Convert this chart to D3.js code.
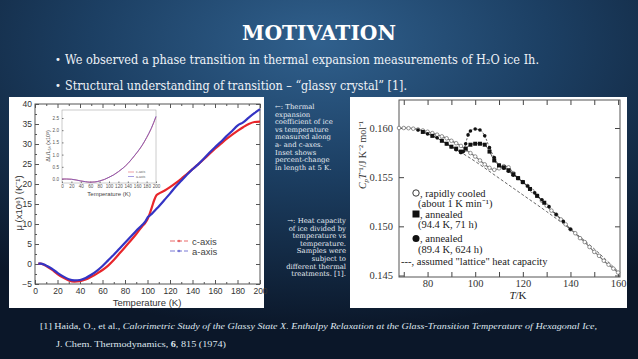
<!DOCTYPE html>
<html><head><meta charset="utf-8">
<script src="https://cdn.jsdelivr.net/npm/d3@7"></script>
<style>html,body{margin:0;padding:0;background:#0d1b2e;} svg{display:block}</style>
</head><body><svg id="c" width="638" height="359"></svg>
<script>
// ---------- DATA ----------
// Left: thermal expansion coefficient (x10^6 K^-1) vs temperature
const alphaT = [3,5,8,10,15,20,25,30,35,40,45,50,55,60,65,70,75,80,85,90,95,98,100,102,104,106,108,110,115,120,125,130,135,140,145,150,155,160,165,170,175,180,185,190,195,200];
const alphaC = [0.1,0.1,-0.2,-0.5,-1.4,-2.5,-3.4,-4.1,-4.4,-4.3,-3.9,-3.2,-2.4,-1.5,-0.4,1.0,2.6,4.2,5.8,7.5,9.3,10.3,11.2,12.6,14.3,16.0,17.2,17.6,18.3,19.2,20.2,21.3,22.5,23.7,24.9,26.2,27.5,28.8,30.0,31.2,32.3,33.3,34.2,35.0,35.5,35.6];
const alphaA = [0.1,0.1,-0.1,-0.4,-1.2,-2.2,-3.1,-3.8,-4.1,-4.0,-3.5,-2.7,-1.7,-0.5,0.9,2.3,3.8,5.3,6.8,8.3,9.7,10.6,11.6,12.1,12.6,13.2,13.8,14.4,16.0,17.6,19.3,20.8,22.3,23.7,24.9,26.3,27.8,29.2,30.5,31.9,33.2,34.6,35.4,36.6,37.7,38.7];
// Inset: dL/L5K (x10^3)
const insetT = [0,10,20,30,40,50,60,70,80,90,100,110,120,130,140,150,160,170,180,190,200];
const insetC = [0,0,-0.01,-0.04,-0.08,-0.11,-0.13,-0.12,-0.08,-0.02,0.07,0.17,0.30,0.45,0.63,0.85,1.09,1.36,1.69,2.07,2.55];
const insetA = [0,0,-0.01,-0.04,-0.08,-0.11,-0.13,-0.12,-0.08,-0.02,0.07,0.17,0.30,0.45,0.63,0.86,1.10,1.37,1.70,2.08,2.57];
const leftXTicks = [0,20,40,60,80,100,120,140,160,180,200];
const leftYTicks = [-5,0,5,10,15,20,25,30,35,40];
const insetXTicks = [0,20,40,60,80,100,120,140,160,180,200];
const insetYTicks = [0,0.5,1.0,1.5,2.0,2.5];
// Right: heat capacity / T (J K^-2 mol^-1)
const rcT  = [68,70,72,74,76,78,80,82,84,86,88,90,92,94,96,98,100,102,104,106,108,110,112,114,116,118,120,122,124,126,128,130,132,134,136,138,140,142,144,146,148,150,152,154,156,158,160];
const rcCp = [0.16000,0.16000,0.15998,0.15993,0.15985,0.15975,0.15962,0.15948,0.15932,0.15915,0.15895,0.15870,0.15845,0.15818,0.15780,0.15745,0.15710,0.15670,0.15630,0.15595,0.15575,0.15590,0.15612,0.15600,0.15540,0.15490,0.15450,0.15410,0.15360,0.15310,0.15260,0.15210,0.15160,0.15120,0.15070,0.15020,0.14970,0.14930,0.14880,0.14840,0.14790,0.14740,0.14700,0.14650,0.14610,0.14570,0.14530];
const sqT  = [78,82,86,88,90,92,94,96,98,100,102,104,106,108,110,112,114,116,118,120,123,126,129];
const sqCp = [0.1596,0.1592,0.1587,0.1584,0.1581,0.1579,0.1576,0.1579,0.1583,0.1584,0.1584,0.1583,0.1576,0.1567,0.1562,0.1560,0.1557,0.1553,0.1549,0.1545,0.1538,0.1531,0.1524];
const dotT  = [76,80,84,88,90,92,94,95,96,97,98,100,102,104,106,108,110,112,114,116,118,120,122,125,128,131,134,137,140];
const dotCp = [0.1598,0.1594,0.1590,0.1584,0.1581,0.1578,0.1575,0.1576,0.1584,0.1593,0.1597,0.1599,0.1598,0.1592,0.1580,0.1570,0.1562,0.1559,0.1556,0.1552,0.1549,0.1545,0.1541,0.1534,0.1527,0.1520,0.1512,0.1505,0.1497];
const latT  = [88,100,110,120,130,140,150,160];
const latCp = [0.1584,0.1566,0.1549,0.1532,0.1515,0.1497,0.1477,0.1454];
const rightXTicks = [80,100,120,140,160];
const rightXMinor = [70,90,110,130,150];
const rightYTicks = [0.145,0.150,0.155,0.160];

// ---------- DRAW ----------
const svg = d3.select("#c");
const defs = svg.append("defs");
const rg = defs.append("radialGradient").attr("id","bg").attr("cx","0.5").attr("cy","0.12").attr("r","0.8");
rg.append("stop").attr("offset","0").attr("stop-color","#30608d");
rg.append("stop").attr("offset","0.45").attr("stop-color","#1c3f63");
rg.append("stop").attr("offset","1").attr("stop-color","#0b1729");
svg.append("rect").attr("width",638).attr("height",359).attr("fill","url(#bg)");

// Title and bullets
svg.append("text").attr("x",319).attr("y",40).attr("text-anchor","middle")
  .attr("font-family","DejaVu Serif").attr("font-weight","bold").attr("font-size",21)
  .attr("fill","#ffffff").attr("textLength",154).attr("lengthAdjust","spacingAndGlyphs").text("MOTIVATION");
svg.append("text").attr("x",65).attr("y",64).attr("font-family","DejaVu Serif").attr("font-size",12.5)
  .attr("fill","#eef2f7").attr("textLength",474).attr("lengthAdjust","spacingAndGlyphs")
  .text("We observed a phase transition in thermal expansion measurements of H\u2082O ice Ih.");
svg.append("text").attr("x",65).attr("y",90).attr("font-family","DejaVu Serif").attr("font-size",12.5)
  .attr("fill","#eef2f7").attr("textLength",342).attr("lengthAdjust","spacingAndGlyphs")
  .text("Structural understanding of transition \u2013 \u201cglassy crystal\u201d [1].");
[60,86].forEach(yy=>svg.append("text").attr("x",55).attr("y",yy+3).attr("font-size",10).attr("fill","#eef2f7").attr("font-family","DejaVu Sans").text("\u2022"));

// ---------- LEFT PANEL ----------
svg.append("rect").attr("x",9).attr("y",97).attr("width",255).attr("height",211).attr("fill","#ffffff");
const lx = d3.scaleLinear([0,200],[35,260]);
const ly = d3.scaleLinear([-5,40],[284,104]);
function styleAxis(g, font, size, color, stroke){
  g.attr("font-family",font).attr("font-size",size);
  g.selectAll("text").attr("fill",color);
  g.selectAll("line").attr("stroke",stroke);
  g.select(".domain").remove();
}
const lf = "Liberation Sans";
let g;
g = svg.append("g").attr("transform","translate(0,284)").call(d3.axisBottom(lx).tickValues(leftXTicks).tickSizeInner(-4).tickSizeOuter(0).tickPadding(4));
styleAxis(g,lf,8.5,"#333","#555");
g = svg.append("g").attr("transform","translate(0,284)").call(d3.axisBottom(lx).tickValues(d3.range(10,200,20)).tickSizeInner(-2).tickSizeOuter(0).tickFormat(""));
styleAxis(g,lf,9,"#333","#555");
g = svg.append("g").attr("transform","translate(0,104)").call(d3.axisTop(lx).tickValues(leftXTicks).tickSizeInner(-4).tickSizeOuter(0).tickFormat(""));
styleAxis(g,lf,9,"#333","#555");
g = svg.append("g").attr("transform","translate(0,104)").call(d3.axisTop(lx).tickValues(d3.range(10,200,20)).tickSizeInner(-2).tickSizeOuter(0).tickFormat(""));
styleAxis(g,lf,9,"#333","#555");
g = svg.append("g").attr("transform","translate(35,0)").call(d3.axisLeft(ly).tickValues(leftYTicks).tickSizeInner(-4).tickSizeOuter(0).tickPadding(3));
styleAxis(g,lf,8.5,"#333","#555");
g = svg.append("g").attr("transform","translate(35,0)").call(d3.axisLeft(ly).tickValues(d3.range(-2.5,40,5)).tickSizeInner(-2).tickSizeOuter(0).tickFormat(""));
styleAxis(g,lf,9,"#333","#555");
g = svg.append("g").attr("transform","translate(260,0)").call(d3.axisRight(ly).tickValues(leftYTicks).tickSizeInner(-4).tickSizeOuter(0).tickFormat(""));
styleAxis(g,lf,9,"#333","#555");
svg.append("rect").attr("x",35).attr("y",104).attr("width",225).attr("height",180).attr("fill","none").attr("stroke","#555").attr("stroke-width",1);

const lline = d3.line().x(d=>lx(d[0])).y(d=>ly(d[1])).curve(d3.curveMonotoneX);
svg.append("path").attr("d",lline(d3.zip(alphaT,alphaC))).attr("fill","none").attr("stroke","#e8262b").attr("stroke-width",2.2);
svg.append("path").attr("d",lline(d3.zip(alphaT,alphaA))).attr("fill","none").attr("stroke","#3434c4").attr("stroke-width",2.2);

svg.append("text").attr("x",147).attr("y",306).attr("text-anchor","middle").attr("font-family",lf).attr("font-size",9.5).attr("fill","#333").text("Temperature (K)");
svg.append("text").attr("transform","translate(22,203) rotate(-90)").attr("text-anchor","middle").attr("font-family",lf).attr("font-size",9.5).attr("fill","#333")
  .text("\u03bc (x10\u2076) (K\u207b\u00b9)");

// main legend
[["c-axis","#ea6a6a",241],["a-axis","#7a7ad6",251]].forEach(([t,c,yy])=>{
  svg.append("line").attr("x1",170).attr("x2",188).attr("y1",yy).attr("y2",yy).attr("stroke",c).attr("stroke-width",1.2).attr("stroke-dasharray","5,2");
  svg.append("circle").attr("cx",179).attr("cy",yy).attr("r",1.3).attr("fill",c);
  svg.append("text").attr("x",192).attr("y",yy+3.5).attr("font-family",lf).attr("font-size",9.5).attr("fill","#444").text(t);
});

// inset
const ix = d3.scaleLinear([0,200],[62,156]);
const iy = d3.scaleLinear([0,2.5],[179,118]);
svg.append("rect").attr("x",62).attr("y",110).attr("width",94).attr("height",73).attr("fill","#fff").attr("stroke","#999").attr("stroke-width",0.5);
g = svg.append("g").attr("transform","translate(0,183)").call(d3.axisBottom(ix).tickValues(insetXTicks).tickSizeInner(-1.5).tickSizeOuter(0).tickPadding(2));
styleAxis(g,lf,4.6,"#555","#777");
g = svg.append("g").attr("transform","translate(62,0)").call(d3.axisLeft(iy).tickValues(insetYTicks).tickSizeInner(-1.5).tickSizeOuter(0).tickPadding(3).tickFormat(d3.format(".1f")));
styleAxis(g,lf,4.6,"#555","#777");
const iline = d3.line().x(d=>ix(d[0])).y(d=>iy(d[1])).curve(d3.curveMonotoneX);
svg.append("path").attr("d",iline(d3.zip(insetT,insetC))).attr("fill","none").attr("stroke","#e0606a").attr("stroke-width",1);
svg.append("path").attr("d",iline(d3.zip(insetT,insetA))).attr("fill","none").attr("stroke","#6a5ad0").attr("stroke-width",0.9).attr("stroke-opacity",0.8);
svg.append("text").attr("x",109).attr("y",196).attr("text-anchor","middle").attr("font-family",lf).attr("font-size",6).attr("fill","#444").text("Temperature (K)");
svg.append("text").attr("transform","translate(50,146) rotate(-90)").attr("text-anchor","middle").attr("font-family",lf).attr("font-size",5.5).attr("fill","#444")
  .text("\u0394L/L\u2085\u2096 (x10\u00b3)");
[["c-axis","#e0606a",172],["a-axis","#6a5ad0",176.5]].forEach(([t,c,yy])=>{
  svg.append("line").attr("x1",128).attr("x2",134).attr("y1",yy).attr("y2",yy).attr("stroke",c).attr("stroke-width",0.6);
  svg.append("text").attr("x",136).attr("y",yy+1.2).attr("font-family",lf).attr("font-size",3.5).attr("fill","#666").text(t);
});

// ---------- MIDDLE TEXT ----------
const mf = "DejaVu Serif";
const leftLines = ["\u2190: Thermal","expansion","coefficient of ice","vs temperature","measured along","a- and c-axes.","Inset shows","percent-change","in length at 5 K."];
leftLines.forEach((t,i)=>svg.append("text").attr("x",275).attr("y",109+i*7.6).attr("font-family",mf).attr("font-size",6.9).attr("fill","#e8edf3").text(t));
const rightLines = ["\u2192: Heat capacity","of ice divided by","temperature vs","temperature.","Samples were","subject to","different thermal","treatments. [1]."];
rightLines.forEach((t,i)=>svg.append("text").attr("x",346).attr("y",223+i*7.6).attr("text-anchor","end").attr("font-family",mf).attr("font-size",6.9).attr("fill","#e8edf3").text(t));

// ---------- RIGHT PANEL ----------
svg.append("rect").attr("x",350).attr("y",97).attr("width",277).attr("height",211).attr("fill","#ffffff");
const rx = d3.scaleLinear([68,160.8],[399,620]);
const ry = d3.scaleLinear([0.145,0.160],[275.5,128]);
const sf = "Liberation Serif";
g = svg.append("g").attr("transform","translate(0,277)").call(d3.axisBottom(rx).tickValues(rightXTicks).tickSizeInner(-5).tickSizeOuter(0).tickPadding(3));
styleAxis(g,sf,10.5,"#333","#444");
g = svg.append("g").attr("transform","translate(0,277)").call(d3.axisBottom(rx).tickValues(rightXMinor).tickSizeInner(-5).tickSizeOuter(0).tickFormat(""));
styleAxis(g,sf,10.5,"#333","#444");
g = svg.append("g").attr("transform","translate(0,100)").call(d3.axisTop(rx).tickValues(rightXTicks.concat(rightXMinor)).tickSizeInner(-5).tickSizeOuter(0).tickFormat(""));
styleAxis(g,sf,10.5,"#333","#444");
g = svg.append("g").attr("transform","translate(399,0)").call(d3.axisLeft(ry).tickValues(rightYTicks).tickSizeInner(-5).tickSizeOuter(0).tickPadding(6).tickFormat(d3.format(".3f")));
styleAxis(g,sf,10.5,"#333","#444");
g = svg.append("g").attr("transform","translate(620,0)").call(d3.axisRight(ry).tickValues(rightYTicks).tickSizeInner(-5).tickSizeOuter(0).tickFormat(""));
styleAxis(g,sf,10.5,"#333","#444");
svg.append("rect").attr("x",399).attr("y",100).attr("width",221).attr("height",177).attr("fill","none").attr("stroke","#555").attr("stroke-width",1);

const rline = d3.line().x(d=>rx(d[0])).y(d=>ry(d[1])).curve(d3.curveMonotoneX);
svg.append("path").attr("d",rline(d3.zip(latT,latCp))).attr("fill","none").attr("stroke","#666").attr("stroke-width",1).attr("stroke-dasharray","3,2");
svg.append("path").attr("d",rline(d3.zip(rcT,rcCp))).attr("fill","none").attr("stroke","#777").attr("stroke-width",1.2);
svg.append("path").attr("d",rline(d3.zip(sqT,sqCp))).attr("fill","none").attr("stroke","#333").attr("stroke-width",0.8);
svg.append("path").attr("d",rline(d3.zip(dotT,dotCp))).attr("fill","none").attr("stroke","#333").attr("stroke-width",0.8).attr("stroke-dasharray","2,1.5");
svg.append("g").selectAll("circle").data(d3.zip(rcT,rcCp)).join("circle")
  .attr("cx",d=>rx(d[0])).attr("cy",d=>ry(d[1])).attr("r",1.8).attr("fill","#fff").attr("stroke","#666").attr("stroke-width",0.7);
svg.append("g").selectAll("rect").data(d3.zip(sqT,sqCp)).join("rect")
  .attr("x",d=>rx(d[0])-2).attr("y",d=>ry(d[1])-2).attr("width",4).attr("height",4).attr("fill","#111");
svg.append("g").selectAll("circle").data(d3.zip(dotT,dotCp)).join("circle")
  .attr("cx",d=>rx(d[0])).attr("cy",d=>ry(d[1])).attr("r",1.8).attr("fill","#111");

// right axis labels
const tl = svg.append("text").attr("x",518).attr("y",299).attr("text-anchor","middle").attr("font-family",sf).attr("font-size",11).attr("fill","#222");
tl.append("tspan").attr("font-style","italic").text("T");
tl.append("tspan").text("/K");
const ryl = svg.append("text").attr("transform","translate(366,155) rotate(-90)").attr("text-anchor","middle").attr("font-family",sf).attr("font-size",10).attr("fill","#333");
ryl.append("tspan").attr("font-style","italic").text("C");
ryl.append("tspan").attr("font-style","italic").attr("font-size",7).attr("dy",2).text("p");
ryl.append("tspan").attr("font-style","italic").attr("dy",-2).text("T");
ryl.append("tspan").text("\u207b\u00b9/J K\u207b\u00b2 mol\u207b\u00b9");

// right legend
const lg = [["rapidly cooled",193,"o"],["(about 1 K min\u207b\u00b9)",203.5,null],["annealed",214,"s"],["(94.4 K, 71 h)",224.5,null],["annealed",238.5,"d"],["(89.4 K, 624 h)",249,null]];
lg.forEach(([t,yy,m])=>{
  if(m){
    if(m==="o") svg.append("circle").attr("cx",416).attr("cy",yy).attr("r",3.2).attr("fill","#fff").attr("stroke","#222").attr("stroke-width",0.9);
    if(m==="s") svg.append("rect").attr("x",412.5).attr("y",yy-3.5).attr("width",7).attr("height",7).attr("fill","#111");
    if(m==="d") svg.append("circle").attr("cx",416).attr("cy",yy).attr("r",3.5).attr("fill","#111");
    svg.append("text").attr("x",420).attr("y",yy+3.5).attr("font-family",sf).attr("font-size",10.5).attr("fill","#222").text(", "+t);
  } else {
    svg.append("text").attr("x",418).attr("y",yy+3.5).attr("font-family",sf).attr("font-size",10.5).attr("fill","#222").text(t);
  }
});
svg.append("text").attr("x",401).attr("y",264.5).attr("font-family",sf).attr("font-size",10.5).attr("fill","#222").text("---, assumed \"lattice\" heat capacity");

// ---------- FOOTNOTE ----------
const fn = svg.append("text").attr("x",40).attr("y",329).attr("font-family","Liberation Serif").attr("font-size",9).attr("fill","#dfe6ee").attr("textLength",557).attr("lengthAdjust","spacingAndGlyphs");
fn.append("tspan").text("[1]  Haida, O., et al., ");
fn.append("tspan").attr("font-style","italic").text("Calorimetric Study of the Glassy State X. Enthalpy Relaxation at the Glass-Transition Temperature of Hexagonal Ice,");
const fn2 = svg.append("text").attr("x",56).attr("y",347).attr("font-family","Liberation Serif").attr("font-size",9).attr("fill","#dfe6ee").attr("textLength",170).attr("lengthAdjust","spacingAndGlyphs");
fn2.append("tspan").text("J. Chem. Thermodynamics, ");
fn2.append("tspan").attr("font-weight","bold").text("6");
fn2.append("tspan").text(", 815 (1974)");
</script></body></html>
